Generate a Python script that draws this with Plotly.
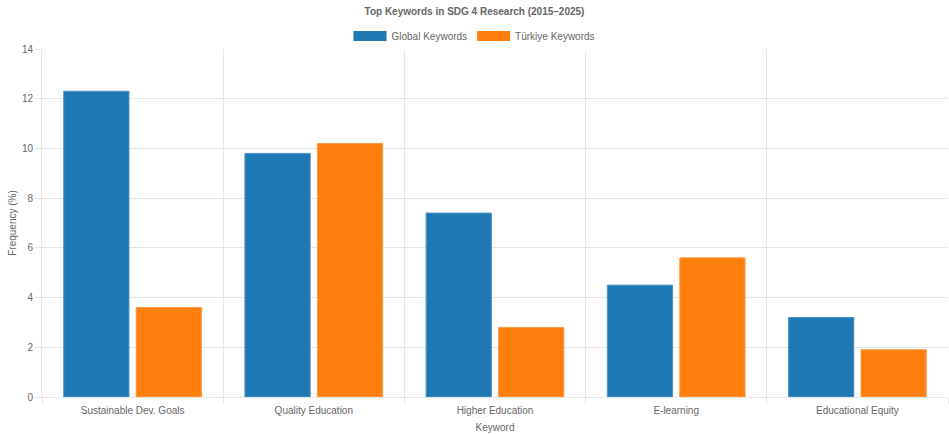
import plotly.graph_objects as go

keywords = ["Sustainable Dev. Goals", "Quality Education", "Higher Education", "E-learning", "Educational Equity"]
global_vals = [12.3, 9.8, 7.4, 4.5, 3.2]
turkiye_vals = [3.6, 10.2, 2.8, 5.6, 1.9]
series_names = ["Global Keywords", "Türkiye Keywords"]
y_ticks = [0, 2, 4, 6, 8, 10, 12, 14]

BLUE = "#1f77b4"
ORANGE = "#ff7f0e"
GRID = "#e6e6e6"
TXT = "#666666"
FONT = "Liberation Sans, Arial, sans-serif"
FS = 10

fig = go.Figure()
for name, vals, col, edge in [(series_names[0], global_vals, BLUE, "#4a93c6"),
                              (series_names[1], turkiye_vals, ORANGE, "#ff9a45")]:
    fig.add_trace(go.Bar(x=keywords, y=vals, name=name, showlegend=False,
                         marker=dict(color=col, line=dict(color=edge, width=1))))
# legend swatches (wide boxes like the reference)
for name, col in [(series_names[0], BLUE), (series_names[1], ORANGE)]:
    fig.add_trace(go.Scatter(x=[None], y=[None], mode="lines", name=name,
                             line=dict(color=col, width=10), showlegend=True))

fig.update_layout(
    width=949, height=434,
    margin=dict(l=42, r=1, t=49, b=37, autoexpand=False),
    paper_bgcolor="white", plot_bgcolor="white",
    font=dict(family=FONT, size=FS, color=TXT),
    barmode="group", bargap=0.2, bargroupgap=0.1,
    title=dict(text="<b>Top Keywords in SDG 4 Research (2015–2025)</b>",
               x=0.5, xref="container", xanchor="center",
               y=1 - 11 / 434, yref="container", yanchor="middle",
               font=dict(size=FS, color=TXT, family=FONT)),
    legend=dict(orientation="h", x=0.5, xref="container", xanchor="center",
                y=1 - 36 / 434, yref="container", yanchor="middle",
                font=dict(size=FS, color=TXT), itemwidth=33,
                traceorder="normal"),
    xaxis=dict(type="category", tickson="boundaries", showgrid=True, gridcolor=GRID,
               gridwidth=1, ticks="outside", ticklen=6, tickcolor=GRID,
               showline=True, linecolor=GRID, zeroline=False, automargin=False,
               ticklabelstandoff=4,
               title=dict(text="Keyword", standoff=8, font=dict(size=FS, color=TXT)),
               tickfont=dict(size=FS, color=TXT)),
    yaxis=dict(range=[0, 14], tickvals=y_ticks, showgrid=True, gridcolor=GRID,
               ticks="outside", ticklen=6, tickcolor=GRID,
               showline=True, linecolor=GRID, zeroline=False, automargin=False,
               title=dict(text="Frequency (%)", standoff=3, font=dict(size=FS, color=TXT)),
               tickfont=dict(size=FS, color=TXT)),
)

fig.write_html("out.html")
